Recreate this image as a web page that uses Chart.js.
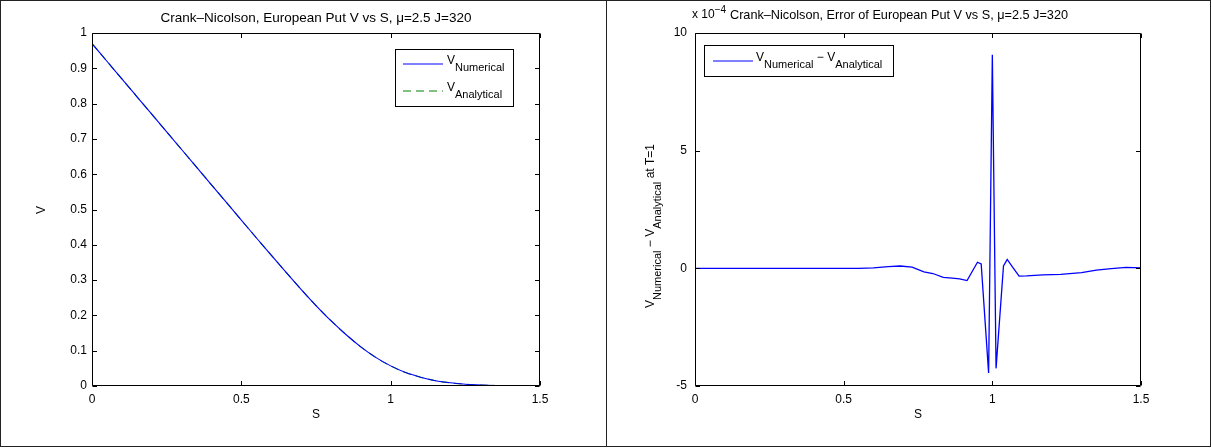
<!DOCTYPE html>
<html>
<head>
<meta charset="utf-8">
<script src="https://cdn.jsdelivr.net/npm/chart.js@4.4.1/dist/chart.umd.min.js"></script>
<style>
  html, body { margin: 0; padding: 0; background: #fff; }
  #page { position: relative; width: 1211px; height: 448px; overflow: hidden; background: #fff; }
  #page canvas { position: absolute; top: 0; }
  .rule { position: absolute; background: #222; z-index: 2; }
</style>
</head>
<body>
<div id="page">
  <canvas id="priceChart" width="606" height="448" style="left:0"></canvas>
  <canvas id="errorChart" width="605" height="448" style="left:606px"></canvas>
  <div class="rule" style="left:0;top:0;width:1211px;height:1px"></div>
  <div class="rule" style="left:0;top:446px;width:1211px;height:1px"></div>
  <div class="rule" style="left:0;top:0;width:1px;height:447px"></div>
  <div class="rule" style="left:1210px;top:0;width:1px;height:447px"></div>
  <div class="rule" style="left:606px;top:0;width:1px;height:447px"></div>
</div>
<script>
// European put price against the underlying S
const sGrid = [0, 0.05, 0.1, 0.15, 0.2, 0.25, 0.3, 0.35, 0.4, 0.45, 0.5, 0.55, 0.6, 0.65, 0.7, 0.75,
  0.8, 0.85, 0.9, 0.95, 1.0, 1.05, 1.1, 1.15, 1.2, 1.25, 1.3, 1.35, 1.4, 1.45, 1.5];
const vNumerical = [0.970, 0.920, 0.870, 0.820, 0.770, 0.720, 0.670, 0.620, 0.570, 0.520, 0.470,
  0.420, 0.371, 0.322, 0.274, 0.228, 0.185, 0.146, 0.111, 0.081, 0.057, 0.038, 0.025, 0.015,
  0.009, 0.005, 0.003, 0.0015, 0.0008, 0.0004, 0.0];
const vAnalytical = [0.970, 0.920, 0.870, 0.820, 0.770, 0.720, 0.670, 0.620, 0.570, 0.520, 0.470,
  0.420, 0.371, 0.322, 0.274, 0.228, 0.185, 0.146, 0.111, 0.081, 0.057, 0.038, 0.025, 0.015,
  0.009, 0.005, 0.003, 0.0015, 0.0008, 0.0004, 0.0];

// numerical minus analytical, in units of 1e-4
const sError = [0, 0.55, 0.6, 0.65, 0.69, 0.73, 0.77, 0.8, 0.835, 0.865, 0.89, 0.915, 0.95, 0.9625,
  0.9875, 1.0, 1.0125, 1.0375, 1.05, 1.07, 1.09, 1.115, 1.17, 1.23, 1.3, 1.35, 1.4, 1.45, 1.5];
const errorE4 = [0, 0, 0.02, 0.07, 0.10, 0.05, -0.15, -0.22, -0.38, -0.42, -0.45, -0.52, 0.26, 0.19,
  -4.45, 9.08, -4.25, 0.10, 0.38, 0.02, -0.33, -0.32, -0.28, -0.26, -0.18, -0.08, -0.01, 0.04, 0.02];

const sTicks = [0, 0.5, 1, 1.5];
const vTicks = [0, 0.1, 0.2, 0.3, 0.4, 0.5, 0.6, 0.7, 0.8, 0.9, 1];
const errTicks = [-5, 0, 5, 10];

const FAMILY = '"Liberation Sans", Arial, Helvetica, sans-serif';
Chart.defaults.font.family = FAMILY;
Chart.defaults.font.size = 12;
Chart.defaults.color = '#000';

const font = px => px + 'px ' + FAMILY;
const txt = t => ({ text: t, size: 12 });
const sub = t => ({ text: t, size: 11, dy: 7 });
const sup = t => ({ text: t, size: 10, dy: -5 });

function richWidth(ctx, runs) {
  let w = 0;
  for (const r of runs) { ctx.font = font(r.size); w += ctx.measureText(r.text).width; }
  return w;
}

// text made of runs, some lowered (subscript) or raised (superscript)
function drawRich(ctx, runs, x, y) {
  ctx.textAlign = 'left';
  ctx.textBaseline = 'middle';
  let cx = x;
  for (const r of runs) {
    ctx.font = font(r.size);
    ctx.fillText(r.text, cx, y + (r.dy || 0));
    cx += ctx.measureText(r.text).width;
  }
}

function pts(xs, ys) {
  return xs.map((x, i) => ({ x: x, y: ys[i] }));
}

// box round the plot with inward ticks, titles and a framed legend
function decor(cfg) {
  return {
    id: 'decor',
    afterDatasetsDraw(chart) {
      const { ctx, chartArea: a, scales } = chart;
      const L = Math.round(a.left) + 0.5, R = Math.round(a.right) - 0.5;
      const T = Math.round(a.top) + 0.5, B = Math.round(a.bottom) - 0.5;
      ctx.save();
      ctx.strokeStyle = '#000';
      ctx.lineWidth = 1;
      ctx.beginPath();
      ctx.rect(L, T, R - L, B - T);
      for (const v of cfg.xTicks) {
        const px = Math.round(scales.x.getPixelForValue(v)) + 0.5;
        ctx.moveTo(px, B); ctx.lineTo(px, B - 4.5);
        ctx.moveTo(px, T); ctx.lineTo(px, T + 4.5);
      }
      for (const v of cfg.yTicks) {
        const py = Math.round(scales.y.getPixelForValue(v)) + 0.5;
        ctx.moveTo(L, py); ctx.lineTo(L + 4.5, py);
        ctx.moveTo(R, py); ctx.lineTo(R - 4.5, py);
      }
      ctx.stroke();
      ctx.restore();
    },
    afterDraw(chart) {
      const ctx = chart.ctx;
      ctx.save();
      ctx.fillStyle = '#000';

      // title
      ctx.font = font(cfg.titleSize);
      ctx.textAlign = 'center';
      ctx.textBaseline = 'middle';
      ctx.fillText(cfg.title, cfg.titleX, cfg.titleY);
      if (cfg.exponent) drawRich(ctx, cfg.exponent.runs, cfg.exponent.x, cfg.exponent.y);

      // x label
      ctx.font = font(12);
      ctx.textAlign = 'center';
      ctx.fillText('S', cfg.xLabel[0], cfg.xLabel[1]);

      // y label, rotated
      ctx.save();
      ctx.translate(cfg.yLabel.x, cfg.yLabel.y);
      ctx.rotate(-Math.PI / 2);
      drawRich(ctx, cfg.yLabel.runs, -richWidth(ctx, cfg.yLabel.runs) / 2, 0);
      ctx.restore();

      // legend
      const lg = cfg.legend;
      ctx.fillStyle = '#fff';
      ctx.fillRect(lg.box[0], lg.box[1], lg.box[2], lg.box[3]);
      ctx.strokeStyle = '#000';
      ctx.lineWidth = 1;
      ctx.strokeRect(lg.box[0], lg.box[1], lg.box[2], lg.box[3]);
      for (const row of lg.rows) {
        ctx.beginPath();
        ctx.strokeStyle = row.color;
        ctx.setLineDash(row.dash || []);
        ctx.moveTo(lg.lineX[0], row.y);
        ctx.lineTo(lg.lineX[1], row.y);
        ctx.stroke();
        ctx.setLineDash([]);
        ctx.fillStyle = '#000';
        drawRich(ctx, row.runs, lg.textX, row.y - 3.5);
      }
      ctx.restore();
    }
  };
}

function axis(min, max, ticks, fit, padding) {
  return {
    type: 'linear',
    min: min,
    max: max,
    afterBuildTicks: s => { s.ticks = ticks.map(v => ({ value: v })); },
    afterFit: fit,
    grid: { display: false, drawTicks: false },
    border: { display: false },
    ticks: { padding: padding, autoSkip: false, maxRotation: 0, font: { size: 12 }, callback: v => String(v) }
  };
}

new Chart(document.getElementById('priceChart'), {
  type: 'line',
  data: {
    datasets: [
      {
        label: 'V Numerical',
        data: pts(sGrid, vNumerical),
        borderColor: '#0000ff',
        borderWidth: 1.1,
        cubicInterpolationMode: 'monotone'
      },
      {
        label: 'V Analytical',
        data: pts(sGrid, vAnalytical),
        borderColor: '#008000',
        borderWidth: 1.1,
        borderDash: [8, 5],
        cubicInterpolationMode: 'monotone'
      }
    ]
  },
  options: {
    responsive: false,
    animation: false,
    layout: { padding: { left: 0, right: 66, top: 33, bottom: 0 } },
    elements: { point: { radius: 0 } },
    plugins: { legend: { display: false }, title: { display: false }, tooltip: { enabled: false } },
    scales: {
      x: axis(0, 1.5, sTicks, s => { s.height = 62; }, 6),
      y: axis(0, 1, vTicks, s => { s.width = 92; }, 5)
    }
  },
  plugins: [decor({
    xTicks: sTicks,
    yTicks: vTicks,
    title: 'Crank\u2013Nicolson, European Put V vs S, \u03bc=2.5 J=320',
    titleSize: 13.5,
    titleX: 316, titleY: 18,
    xLabel: [316, 415],
    yLabel: { x: 42, y: 210, runs: [txt('V')] },
    legend: {
      box: [395.5, 49.5, 118, 57],
      lineX: [403, 443],
      textX: 447,
      rows: [
        { y: 64, color: '#0000ff', runs: [txt('V'), sub('Numerical')] },
        { y: 91, color: '#008000', dash: [8, 5], runs: [txt('V'), sub('Analytical')] }
      ]
    }
  })]
});

new Chart(document.getElementById('errorChart'), {
  type: 'line',
  data: {
    datasets: [
      {
        label: 'V Numerical - V Analytical',
        data: pts(sError, errorE4),
        borderColor: '#0000ff',
        borderWidth: 1.3,
        tension: 0
      }
    ]
  },
  options: {
    responsive: false,
    animation: false,
    layout: { padding: { left: 0, right: 70, top: 33, bottom: 0 } },
    elements: { point: { radius: 0 } },
    plugins: { legend: { display: false }, title: { display: false }, tooltip: { enabled: false } },
    scales: {
      x: axis(0, 1.5, sTicks, s => { s.height = 62; }, 6),
      y: axis(-5, 10, errTicks, s => { s.width = 89; }, 8)
    }
  },
  plugins: [decor({
    xTicks: sTicks,
    yTicks: errTicks,
    title: 'Crank\u2013Nicolson, Error of European Put V vs S, \u03bc=2.5 J=320',
    titleSize: 12.7,
    titleX: 293, titleY: 15,
    exponent: { x: 86, y: 15, runs: [txt('x 10'), sup('\u22124')] },
    xLabel: [312, 415],
    yLabel: {
      x: 45, y: 226,
      runs: [txt('V'), sub('Numerical'), txt(' \u2212 '), txt('V'), sub('Analytical'), txt(' at T=1')]
    },
    legend: {
      box: [98.5, 45.5, 189, 31],
      lineX: [107, 147],
      textX: 150,
      rows: [
        { y: 61, color: '#0000ff', runs: [txt('V'), sub('Numerical'), txt(' \u2212 '), txt('V'), sub('Analytical')] }
      ]
    }
  })]
});
</script>
</body>
</html>
